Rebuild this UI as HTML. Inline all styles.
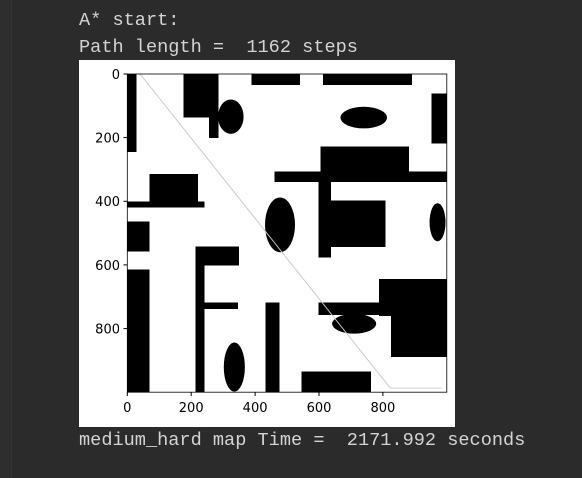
<!DOCTYPE html>
<html><head><meta charset="utf-8"><style>
html,body{margin:0;padding:0;width:582px;height:478px;overflow:hidden;background:#2b2b2b;}
.t{position:absolute;left:79px;font-family:"Liberation Mono",monospace;font-size:18.6px;color:#d4d4d4;white-space:pre;line-height:20px;}
.box{position:absolute;left:79px;top:60px;width:376px;height:367px;background:#fff;}
</style></head><body>
<div style="position:absolute;left:0;top:0;width:11px;height:478px;background:#2e2e2e;border-right:1px solid #353535"></div>
<div class="t" style="top:11px">A* start:</div>
<div class="t" style="top:38px">Path length =  1162 steps</div>
<div class="box"></div>
<svg style="position:absolute;left:0;top:0" width="582" height="478">
<g transform="translate(127.3,74) scale(0.3195,0.3182)">
<rect x="0" y="0" width="1000" height="1000" fill="#fff"/>
<g fill="#000" shape-rendering="crispEdges">
<rect x="0" y="0" width="29" height="245"/>
<rect x="176" y="0" width="109" height="136"/>
<rect x="256" y="0" width="29" height="201"/>
<rect x="388" y="0" width="152" height="35"/>
<rect x="613" y="0" width="278" height="35"/>
<rect x="952" y="62" width="48" height="156"/>
<rect x="604" y="228" width="277" height="82"/>
<rect x="461" y="307" width="539" height="32"/>
<rect x="599" y="307" width="39" height="270"/>
<rect x="636" y="398" width="172" height="146"/>
<rect x="69" y="314" width="152" height="90"/>
<rect x="0" y="401" width="241" height="19"/>
<rect x="0" y="464" width="69" height="94"/>
<rect x="0" y="614" width="69" height="386"/>
<rect x="213" y="542" width="28" height="458"/>
<rect x="213" y="542" width="136" height="60"/>
<rect x="239" y="718" width="108" height="21"/>
<rect x="432" y="718" width="45" height="282"/>
<rect x="546" y="935" width="216" height="65"/>
<rect x="599" y="718" width="229" height="39"/>
<rect x="788" y="644" width="212" height="116"/>
<rect x="826" y="755" width="174" height="135"/>
</g>
<g fill="#000">
<ellipse cx="324" cy="134" rx="40" ry="54"/>
<ellipse cx="740" cy="137" rx="73" ry="34"/>
<ellipse cx="478" cy="474" rx="47" ry="86"/>
<ellipse cx="971" cy="466" rx="25" ry="60"/>
<ellipse cx="335" cy="921" rx="33" ry="77"/>
<ellipse cx="710" cy="785" rx="69" ry="31"/>
</g>
<polyline points="40,0 823,987 984,987" fill="none" stroke="#c8c8c8" stroke-width="3"/>
<rect x="0" y="0" width="1000" height="1000" fill="none" stroke="#000" stroke-width="2.5"/>
</g>
<g stroke="#000" stroke-width="1">
<line x1="123.5" y1="74" x2="127.3" y2="74"/><line x1="123.5" y1="137.6" x2="127.3" y2="137.6"/><line x1="123.5" y1="201.3" x2="127.3" y2="201.3"/><line x1="123.5" y1="264.9" x2="127.3" y2="264.9"/><line x1="123.5" y1="328.6" x2="127.3" y2="328.6"/>
<line x1="127.3" y1="392" x2="127.3" y2="396"/><line x1="191.2" y1="392" x2="191.2" y2="396"/><line x1="255.1" y1="392" x2="255.1" y2="396"/><line x1="319" y1="392" x2="319" y2="396"/><line x1="382.9" y1="392" x2="382.9" y2="396"/>
</g>
<g font-family="'DejaVu Sans',sans-serif" font-size="13" fill="#000" text-anchor="end">
<text x="120" y="79">0</text><text x="120" y="142.5">200</text><text x="120" y="206">400</text><text x="120" y="270">600</text><text x="120" y="333.5">800</text>
</g>
<g font-family="'DejaVu Sans',sans-serif" font-size="13" fill="#000" text-anchor="middle">
<text x="127.3" y="412">0</text><text x="191.2" y="412">200</text><text x="255.1" y="412">400</text><text x="319" y="412">600</text><text x="382.9" y="412">800</text>
</g>
</svg>
<div class="t" style="top:431px">medium_hard map Time =  2171.992 seconds</div>
</body></html>
